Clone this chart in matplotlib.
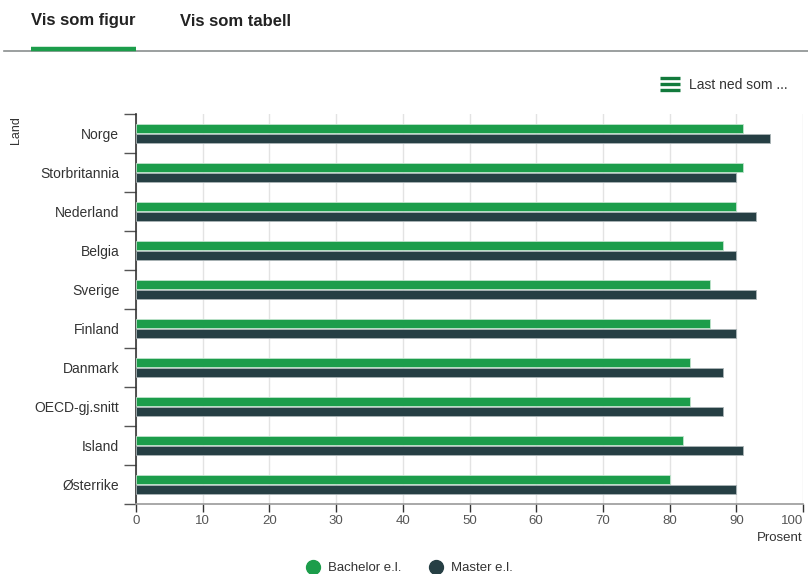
import numpy as np
import matplotlib
matplotlib.use("Agg")
import matplotlib.pyplot as plt
from matplotlib.lines import Line2D

countries = ["Norge", "Storbritannia", "Nederland", "Belgia", "Sverige",
             "Finland", "Danmark", "OECD-gj.snitt", "Island", "Østerrike"]
bachelor = [91, 91, 90, 88, 86, 86, 83, 83, 82, 80]
master = [95, 90, 93, 90, 93, 90, 88, 88, 91, 90]
xticks = [0, 10, 20, 30, 40, 50, 60, 70, 80, 90, 100]
series_names = ["Bachelor e.l.", "Master e.l."]

GREEN = "#1c9d4b"
DARK = "#263f44"
TXT = "#333333"

plt.rcParams['font.family'] = ['Liberation Sans', 'DejaVu Sans']

W, H = 808, 574
fig = plt.figure(figsize=(W / 100, H / 100), dpi=100)

def fx(px):
    return px / W

def fy(py):
    return 1 - py / H

ax = fig.add_axes([fx(136), fy(504), fx(803) - fx(136), fy(114) - fy(504)])

y = np.arange(len(countries))
ax.barh(y - 0.14, bachelor, height=0.23, color=GREEN, edgecolor="#bfe3cc", linewidth=0.6, zorder=3)
ax.barh(y + 0.14, master, height=0.23, color=DARK, edgecolor="#aab4b6", linewidth=0.6, zorder=3)

ax.set_xlim(0, 100)
ax.set_ylim(len(countries) - 0.5, -0.5)
ax.set_xticks(xticks)
labels = ax.set_xticklabels([str(t) for t in xticks], fontsize=9.5, color="#555555")
labels[-1].set_horizontalalignment("right")
ax.tick_params(axis="x", length=6, width=1, color="#333333", pad=2)
ax.grid(axis="x", color="#e3e3e3", linewidth=1, zorder=0)

ax.set_yticks(np.arange(len(countries) + 1) - 0.5)
ax.set_yticklabels([])
ax.tick_params(axis="y", which="major", length=9, width=1, color="#555555")
ax.set_yticks(y, minor=True)
ax.set_yticklabels(countries, minor=True, fontsize=10, color=TXT)
ax.tick_params(axis="y", which="minor", length=0, pad=12)

for s in ["top", "right"]:
    ax.spines[s].set_visible(False)
ax.spines["left"].set_color("#333333")
ax.spines["left"].set_linewidth(1.2)
ax.spines["bottom"].set_color("#999999")
ax.spines["bottom"].set_linewidth(1.2)

# axis titles
fig.text(fx(16), fy(130), "Land", rotation=90, fontsize=9, color=TXT, ha="center", va="center")
fig.text(fx(803), fy(538), "Prosent", fontsize=9.5, color=TXT, ha="right", va="center")

# header tabs
fig.text(fx(31), fy(21), "Vis som figur", fontsize=12, fontweight="bold", color="#222222", va="center", ha="left")
fig.text(fx(180), fy(21), "Vis som tabell", fontsize=12, fontweight="bold", color="#222222", va="center", ha="left")
fig.add_artist(Line2D([fx(4), fx(808)], [fy(50.5), fy(50.5)], color="#8a8f8f", linewidth=1.2))
fig.add_artist(Line2D([fx(31), fx(136)], [fy(48.5), fy(48.5)], color=GREEN, linewidth=3.2, solid_capstyle="butt"))

# download button
for py in (78, 84, 90):
    fig.add_artist(Line2D([fx(660), fx(680)], [fy(py), fy(py)], color="#127a3c", linewidth=2.4, solid_capstyle="butt"))
fig.text(fx(689), fy(85), "Last ned som ...", fontsize=10, color="#333333", va="center", ha="left")

# legend
handles = [Line2D([], [], marker="o", linestyle="none", markersize=10, color=GREEN),
           Line2D([], [], marker="o", linestyle="none", markersize=10, color=DARK)]
fig.legend(handles, series_names, loc="center", bbox_to_anchor=(fx(406), fy(568)), ncol=2,
           frameon=False, fontsize=9.5, handletextpad=0.15, columnspacing=1.6, labelcolor=TXT)

fig.savefig("out.png", dpi=100)
